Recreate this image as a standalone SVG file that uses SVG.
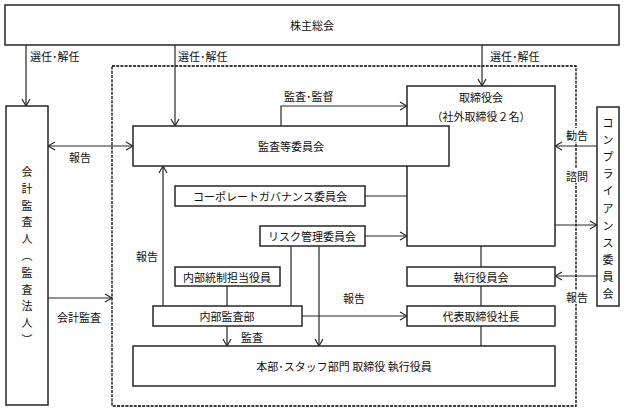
<svg xmlns="http://www.w3.org/2000/svg" width="624" height="412" viewBox="0 0 624 412">
<style>
.box{fill:#fff;stroke:#262626;stroke-width:1.5}
.ln{fill:none;stroke:#262626;stroke-width:1.2}
.dash{fill:none;stroke:#000;stroke-width:1.3;stroke-dasharray:3,1.2}
.bg{fill:#fff}
text{font-family:"Noto Sans CJK JP","Noto Sans",sans-serif;font-size:11px;fill:#111;dominant-baseline:central}
.c{text-anchor:middle}
</style>
<defs>
<marker id="ah" markerWidth="9" markerHeight="10" refX="8" refY="5" orient="auto-start-reverse" markerUnits="userSpaceOnUse">
<path d="M1,1 L8,5 L1,9" fill="none" stroke="#262626" stroke-width="1.2"/>
</marker>
</defs>
<rect x="0" y="0" width="624" height="412" fill="#fff"/>
<rect class="dash" x="112" y="66" width="464" height="340"/>
<g id="connectors">
<line class="ln" x1="26" y1="45" x2="26" y2="106" marker-end="url(#ah)"/>
<line class="ln" x1="175" y1="45" x2="175" y2="126" marker-end="url(#ah)"/>
<line class="ln" x1="482" y1="45" x2="482" y2="86" marker-end="url(#ah)"/>
<polyline class="ln" points="281,126 281,106 407,106" marker-end="url(#ah)"/>
<line class="ln" x1="48" y1="146" x2="133" y2="146" marker-start="url(#ah)" marker-end="url(#ah)"/>
<line class="ln" x1="365" y1="196" x2="407" y2="196"/>
<line class="ln" x1="365" y1="236" x2="407" y2="236" marker-end="url(#ah)"/>
<line class="ln" x1="555" y1="225" x2="597" y2="225" marker-end="url(#ah)"/>
<line class="ln" x1="597" y1="146" x2="555" y2="146" marker-end="url(#ah)"/>
<line class="ln" x1="597" y1="276" x2="555" y2="276" marker-end="url(#ah)"/>
<line class="ln" x1="163" y1="306" x2="163" y2="166" marker-end="url(#ah)"/>
<line class="ln" x1="227" y1="286" x2="227" y2="306"/>
<line class="ln" x1="291" y1="246" x2="291" y2="306"/>
<line class="ln" x1="319" y1="246" x2="319" y2="346" marker-end="url(#ah)"/>
<line class="ln" x1="302" y1="316" x2="407" y2="316" marker-end="url(#ah)"/>
<line class="ln" x1="227" y1="326" x2="227" y2="346" marker-end="url(#ah)"/>
<line class="ln" x1="48" y1="298" x2="112" y2="298" marker-end="url(#ah)"/>
<line class="ln" x1="481" y1="246" x2="481" y2="267"/>
<line class="ln" x1="481" y1="286" x2="481" y2="306"/>
<line class="ln" x1="481" y1="326" x2="481" y2="346"/>
</g>
<g id="labels">
<rect class="bg" x="565" y="128" width="24" height="14"/>
<rect class="bg" x="565" y="169" width="24" height="14"/>
<rect class="bg" x="565" y="290" width="24" height="14"/>
<text x="30" y="56">選任･解任</text>
<text x="178" y="56">選任･解任</text>
<text x="490" y="56">選任･解任</text>
<text x="284" y="96">監査･監督</text>
<text x="69" y="157">報告</text>
<text x="566" y="135">勧告</text>
<text x="566" y="176">諮問</text>
<text x="566" y="297">報告</text>
<text x="136" y="256">報告</text>
<text x="343" y="298">報告</text>
<text x="241" y="337">監査</text>
<text x="57" y="317">会計監査</text>
</g>
<g id="n-shareholders">
<rect class="box" x="5" y="5" width="614" height="40"/>
<text class="c" x="312" y="25">株主総会</text>
</g>
<g id="n-auditor">
<rect class="box" x="6" y="106" width="42" height="299"/>
<text class="c" x="27" y="171">会</text>
<text class="c" x="27" y="188">計</text>
<text class="c" x="27" y="205">監</text>
<text class="c" x="27" y="221">査</text>
<text class="c" x="27" y="238">人</text>
<text class="c" x="27" y="255">︵</text>
<text class="c" x="27" y="272">監</text>
<text class="c" x="27" y="289">査</text>
<text class="c" x="27" y="305">法</text>
<text class="c" x="27" y="322">人</text>
<text class="c" x="27" y="339">︶</text>
</g>
<g id="n-board">
<rect class="box" x="407" y="86" width="148" height="160"/>
<text class="c" x="481" y="97">取締役会</text>
<text class="c" x="481" y="116">（社外取締役２名）</text>
</g>
<g id="n-audit-committee">
<rect class="box" x="133" y="126" width="316" height="40"/>
<text class="c" x="291" y="146">監査等委員会</text>
</g>
<g id="n-cg">
<rect class="box" x="175" y="186" width="190" height="20"/>
<text class="c" x="270" y="196">コーポレートガバナンス委員会</text>
</g>
<g id="n-risk">
<rect class="box" x="260" y="226" width="105" height="20"/>
<text class="c" x="312" y="236">リスク管理委員会</text>
</g>
<g id="n-compliance">
<rect class="box" x="597" y="107" width="22" height="199"/>
<text class="c" x="608" y="122">コ</text>
<text class="c" x="608" y="139">ン</text>
<text class="c" x="608" y="156">プ</text>
<text class="c" x="608" y="173">ラ</text>
<text class="c" x="608" y="190">イ</text>
<text class="c" x="608" y="208">ア</text>
<text class="c" x="608" y="225">ン</text>
<text class="c" x="608" y="242">ス</text>
<text class="c" x="608" y="259">委</text>
<text class="c" x="608" y="276">員</text>
<text class="c" x="608" y="293">会</text>
</g>
<g id="n-ic">
<rect class="box" x="175" y="267" width="105" height="19"/>
<text class="c" x="227" y="276.5">内部統制担当役員</text>
</g>
<g id="n-exec">
<rect class="box" x="407" y="267" width="148" height="19"/>
<text class="c" x="481" y="276.5">執行役員会</text>
</g>
<g id="n-ia">
<rect class="box" x="153" y="306" width="149" height="20"/>
<text class="c" x="227" y="316">内部監査部</text>
</g>
<g id="n-ceo">
<rect class="box" x="407" y="306" width="148" height="20"/>
<text class="c" x="481" y="316">代表取締役社長</text>
</g>
<g id="n-dept">
<rect class="box" x="133" y="346" width="422" height="40"/>
<text class="c" x="344" y="366">本部･スタッフ部門 取締役 執行役員</text>
</g>
</svg>
